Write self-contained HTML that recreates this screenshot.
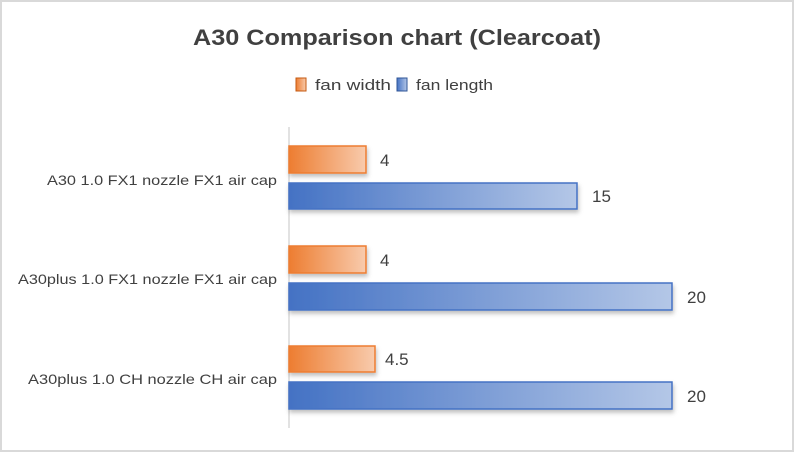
<!DOCTYPE html>
<html><head><meta charset="utf-8"><style>
html,body{margin:0;padding:0;background:#fff}
svg{display:block}
text{font-family:"Liberation Sans",sans-serif;fill:#404040}
</style></head><body>
<svg width="794" height="452" viewBox="0 0 794 452" xmlns="http://www.w3.org/2000/svg">
<defs>
<linearGradient id="go" x1="0" x2="1" y1="0" y2="0"><stop offset="0" stop-color="#ED7D31"/><stop offset="1" stop-color="#F8CBAD"/></linearGradient>
<linearGradient id="gb" x1="0" x2="1" y1="0" y2="0"><stop offset="0" stop-color="#4472C4"/><stop offset="1" stop-color="#B4C7E7"/></linearGradient>
<filter id="sh" x="-5%" y="-30%" width="110%" height="170%"><feDropShadow dx="1" dy="3" stdDeviation="2" flood-color="#000" flood-opacity="0.25"/></filter>
</defs>
<rect x="1" y="1" width="792" height="450" fill="#fff" stroke="#d9d9d9" stroke-width="2"/>
<text x="397" y="45" text-anchor="middle" font-size="22" font-weight="bold" textLength="408" lengthAdjust="spacingAndGlyphs">A30 Comparison chart (Clearcoat)</text>
<rect x="296" y="78" width="10" height="13" fill="url(#go)" stroke="#C55A11" stroke-width="1"/>
<text x="315" y="90" font-size="15" textLength="76" lengthAdjust="spacingAndGlyphs">fan width</text>
<rect x="397" y="78" width="10" height="13" fill="url(#gb)" stroke="#2F5597" stroke-width="1"/>
<text x="416" y="90" font-size="15" textLength="77" lengthAdjust="spacingAndGlyphs">fan length</text>
<line x1="289" y1="127" x2="289" y2="428" stroke="#d9d9d9" stroke-width="1.5"/>
<g filter="url(#sh)">
<rect x="289" y="146" width="77" height="27" fill="url(#go)" stroke="#ED7D31" stroke-width="1.5"/>
<rect x="289" y="183" width="288" height="26" fill="url(#gb)" stroke="#4472C4" stroke-width="1.5"/>
<rect x="289" y="246" width="77" height="27" fill="url(#go)" stroke="#ED7D31" stroke-width="1.5"/>
<rect x="289" y="283" width="383" height="27" fill="url(#gb)" stroke="#4472C4" stroke-width="1.5"/>
<rect x="289" y="346" width="86" height="26" fill="url(#go)" stroke="#ED7D31" stroke-width="1.5"/>
<rect x="289" y="382" width="383" height="27" fill="url(#gb)" stroke="#4472C4" stroke-width="1.5"/>
</g>
<g font-size="17">
<text x="380" y="166">4</text>
<text x="592" y="202">15</text>
<text x="380" y="266">4</text>
<text x="687" y="303">20</text>
<text x="385" y="365">4.5</text>
<text x="687" y="402">20</text>
</g>
<g font-size="14" text-anchor="end">
<text x="277" y="185" textLength="230" lengthAdjust="spacingAndGlyphs">A30 1.0 FX1 nozzle FX1 air cap</text>
<text x="277" y="284" textLength="259" lengthAdjust="spacingAndGlyphs">A30plus 1.0 FX1 nozzle FX1 air cap</text>
<text x="277" y="384" textLength="249" lengthAdjust="spacingAndGlyphs">A30plus 1.0 CH nozzle CH air cap</text>
</g>
</svg>
</body></html>
